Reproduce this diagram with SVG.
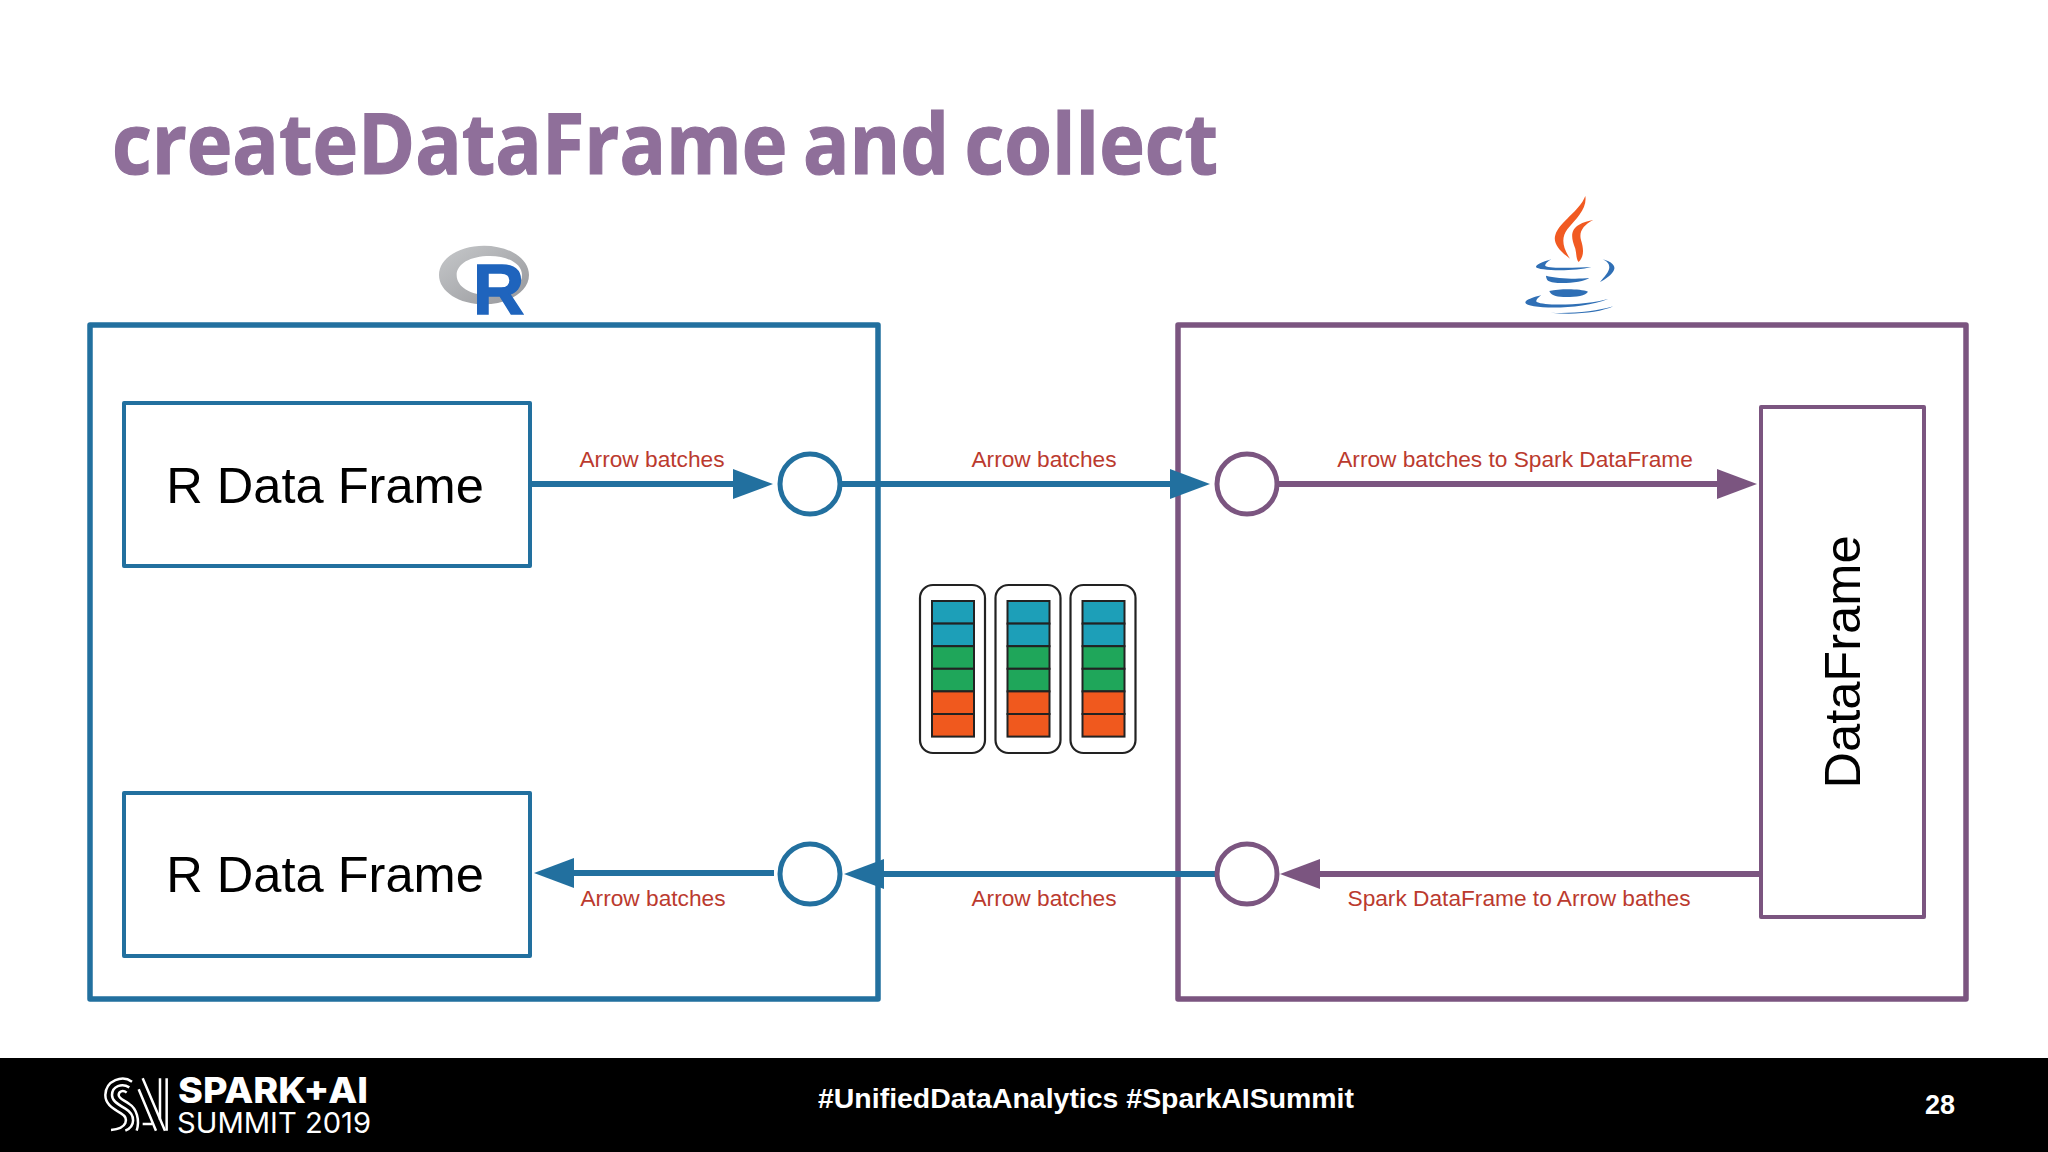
<svg xmlns="http://www.w3.org/2000/svg" width="2048" height="1152" viewBox="0 0 2048 1152">
<style>
text{font-family:"Liberation Sans",Arial,sans-serif}
.box{fill:#fff;stroke:#22709f;stroke-width:4;stroke-linejoin:round}
.big{font-size:50.6px;fill:#000}
.lab{font-size:22.7px;fill:#bb3a2e}
.cb{fill:#fff;stroke:#22709f;stroke-width:5}
.cp{fill:#fff;stroke:#7b5580;stroke-width:5}
.lb{stroke:#22709f;stroke-width:6;fill:none;marker-end:url(#hb)}
.lp{stroke:#7b5580;stroke-width:6;fill:none;marker-end:url(#hp)}
.ln{stroke:#22709f;stroke-width:6;fill:none}
.pack{fill:#fff;stroke:#222;stroke-width:2.2}
.c1{fill:#1d9fb8;stroke:#222;stroke-width:2}
.c2{fill:#1fa65a;stroke:#222;stroke-width:2}
.c3{fill:#f0591e;stroke:#222;stroke-width:2}
.or{fill:#f15a22}
.jb{fill:#2f6fb5}
.sa{fill:none;stroke:#fff;stroke-width:7.5}
</style>
<defs>
<marker id="hb" markerUnits="userSpaceOnUse" markerWidth="40" markerHeight="30" refX="32" refY="15" orient="auto"><path d="M0,0L40,15L0,30Z" fill="#22709f"/></marker>
<marker id="hp" markerUnits="userSpaceOnUse" markerWidth="40" markerHeight="30" refX="32" refY="15" orient="auto"><path d="M0,0L40,15L0,30Z" fill="#7b5580"/></marker>
<linearGradient id="rg" x1="0" y1="0" x2="1" y2="1"><stop offset="0" stop-color="#c6c8ca"/><stop offset="1" stop-color="#96979b"/></linearGradient>
<g id="batch">
<rect class="pack" x="0" y="0" width="65" height="168" rx="13"/>
<rect class="c1" x="12" y="16" width="42" height="22.6"/>
<rect class="c1" x="12" y="38.6" width="42" height="22.6"/>
<rect class="c2" x="12" y="61.2" width="42" height="22.6"/>
<rect class="c2" x="12" y="83.8" width="42" height="22.6"/>
<rect class="c3" x="12" y="106.4" width="42" height="22.6"/>
<rect class="c3" x="12" y="129" width="42" height="22.6"/>
</g>
</defs>
<rect width="2048" height="1152" fill="#fff"/>
<text id="title" x="112" y="174" font-size="84" font-weight="700" fill="#8f6f9a" stroke="#8f6f9a" stroke-width="1.2" word-spacing="-5" textLength="1106" lengthAdjust="spacingAndGlyphs" style="font-family:'Open Sans','Noto Sans',sans-serif">createDataFrame and collect</text>

<g id="r-logo" transform="translate(420 220) scale(.3333)">
<path fill="url(#rg)" fill-rule="evenodd" d="M192,77C118,77 57,115 57,165C57,215 118,253 192,253C266,253 327,215 327,165C327,115 266,77 192,77ZM210,108C265,108 306,132 306,165C306,200 265,226 210,226C150,226 110,200 110,165C110,132 150,108 210,108Z"/>
</g>
<text id="r-letter" x="473" y="314" font-size="71" font-weight="700" fill="#1f64bd" stroke="#1f64bd" stroke-width="1.5">R</text>

<g id="java-logo" transform="translate(1480 180) scale(.3333)">
<path class="or" d="M316,48C322,85 290,115 262,148C244,172 246,200 270,236C240,214 218,190 226,165C238,125 298,95 316,48Z"/>
<path class="or" d="M340,120C310,135 296,155 303,180C312,208 312,230 296,246C288,238 290,222 286,206C272,172 272,150 296,135C310,126 326,122 340,120Z"/>
<path class="jb" d="M214,238C190,245 168,254 168,261C172,272 280,276 334,261C290,264 210,266 196,258C194,252 204,244 214,238Z"/>
<path class="jb" d="M368,238C395,245 408,258 402,270C396,284 376,298 360,306C372,292 388,276 388,262C388,250 380,244 368,238Z"/>
<path class="jb" d="M198,287C230,296 290,298 328,294C310,308 225,316 204,302C200,298 198,292 198,287Z"/>
<path class="jb" d="M208,333C240,326 300,326 324,335C318,348 280,352 250,351C225,350 212,344 208,333Z"/>
<path class="jb" d="M184,346C158,352 136,360 136,368C140,386 300,392 386,356C330,374 200,380 170,366C166,360 176,352 184,346Z"/>
<path class="jb" d="M212,398C270,402 350,394 400,379C360,398 280,406 212,398Z"/>
</g>

<g id="r-process"><rect x="90" y="325" width="788" height="674" fill="#fff" stroke="#22709f" stroke-width="5.5" stroke-linejoin="round"/></g>
<g id="jvm-process"><rect x="1178" y="325" width="788" height="674" fill="#fff" stroke="#7b5580" stroke-width="5.5" stroke-linejoin="round"/></g>

<g id="r-df-top"><rect class="box" x="124" y="403" width="406" height="163"/><text class="big" x="325" y="503" text-anchor="middle">R Data Frame</text></g>
<g id="r-df-bottom"><rect class="box" x="124" y="793" width="406" height="163"/><text class="big" x="325" y="892" text-anchor="middle">R Data Frame</text></g>
<g id="spark-df"><rect x="1761" y="407" width="163" height="510" fill="#fff" stroke="#7b5580" stroke-width="4" stroke-linejoin="round"/><text class="big" transform="translate(1860 662) rotate(-90)" text-anchor="middle">DataFrame</text></g>

<g id="batches">
<use href="#batch" x="920" y="585"/>
<use href="#batch" x="995.5" y="585"/>
<use href="#batch" x="1070.5" y="585"/>
</g>

<g id="connectors">
<line class="lb" x1="530" y1="484" x2="765" y2="484"/>
<line class="lb" x1="838" y1="484" x2="1202" y2="484"/>
<line class="lp" x1="1278" y1="484" x2="1749" y2="484"/>
<line class="lp" x1="1760" y1="874" x2="1288" y2="874"/>
<line class="lb" x1="1215" y1="874" x2="852" y2="874"/>
<line class="lb" x1="774" y1="873" x2="542" y2="873"/>
</g>

<g id="port-r-top"><circle class="cb" cx="810" cy="484" r="30"/></g>
<g id="port-j-top"><circle class="cp" cx="1247" cy="484" r="30"/></g>
<g id="port-r-bottom"><circle class="cb" cx="810" cy="874" r="30"/></g>
<g id="port-j-bottom"><circle class="cp" cx="1247" cy="874" r="30"/></g>
<line class="ln" x1="838" y1="484" x2="860" y2="484"/>

<g id="labels">
<text class="lab" x="652" y="467" text-anchor="middle">Arrow batches</text>
<text class="lab" x="1044" y="467" text-anchor="middle">Arrow batches</text>
<text class="lab" x="1515" y="467" text-anchor="middle">Arrow batches to Spark DataFrame</text>
<text class="lab" x="653" y="906" text-anchor="middle">Arrow batches</text>
<text class="lab" x="1044" y="906" text-anchor="middle">Arrow batches</text>
<text class="lab" x="1519" y="906" text-anchor="middle">Spark DataFrame to Arrow bathes</text>
</g>

<g id="footer">
<rect x="0" y="1058" width="2048" height="94" fill="#000"/>
<g id="sa-mark" transform="translate(96 1070) scale(.3333)">
<path class="sa" d="M108,35C80,15 30,30 28,75C28,100 45,112 75,130C100,145 95,175 45,180"/>
<path class="sa" d="M100,52C78,38 48,48 48,75C48,92 62,100 88,116C120,135 118,170 88,182"/>
<path class="sa" d="M92,68C80,58 68,65 68,75C68,85 80,88 100,102C122,116 132,150 122,182"/>
<path class="sa" d="M140,25L207,182M128,58L180,182M140,162H168"/>
<path class="sa" d="M192,25V150M212,25V182"/>
</g>
<text x="178" y="1103" font-size="36" font-weight="800" fill="#fff" textLength="190" lengthAdjust="spacingAndGlyphs" style="font-family:Inter,'Liberation Sans',sans-serif">SPARK+AI</text>
<text x="177" y="1133" font-size="28" fill="#fff" textLength="194" lengthAdjust="spacingAndGlyphs" style="font-family:Inter,'Liberation Sans',sans-serif">SUMMIT 2019</text>
<text x="818" y="1108" font-size="27.5" font-weight="700" fill="#fff" textLength="536" lengthAdjust="spacingAndGlyphs">#UnifiedDataAnalytics #SparkAISummit</text>
<text x="1925" y="1114" font-size="27" font-weight="700" fill="#fff">28</text>
</g>
</svg>
